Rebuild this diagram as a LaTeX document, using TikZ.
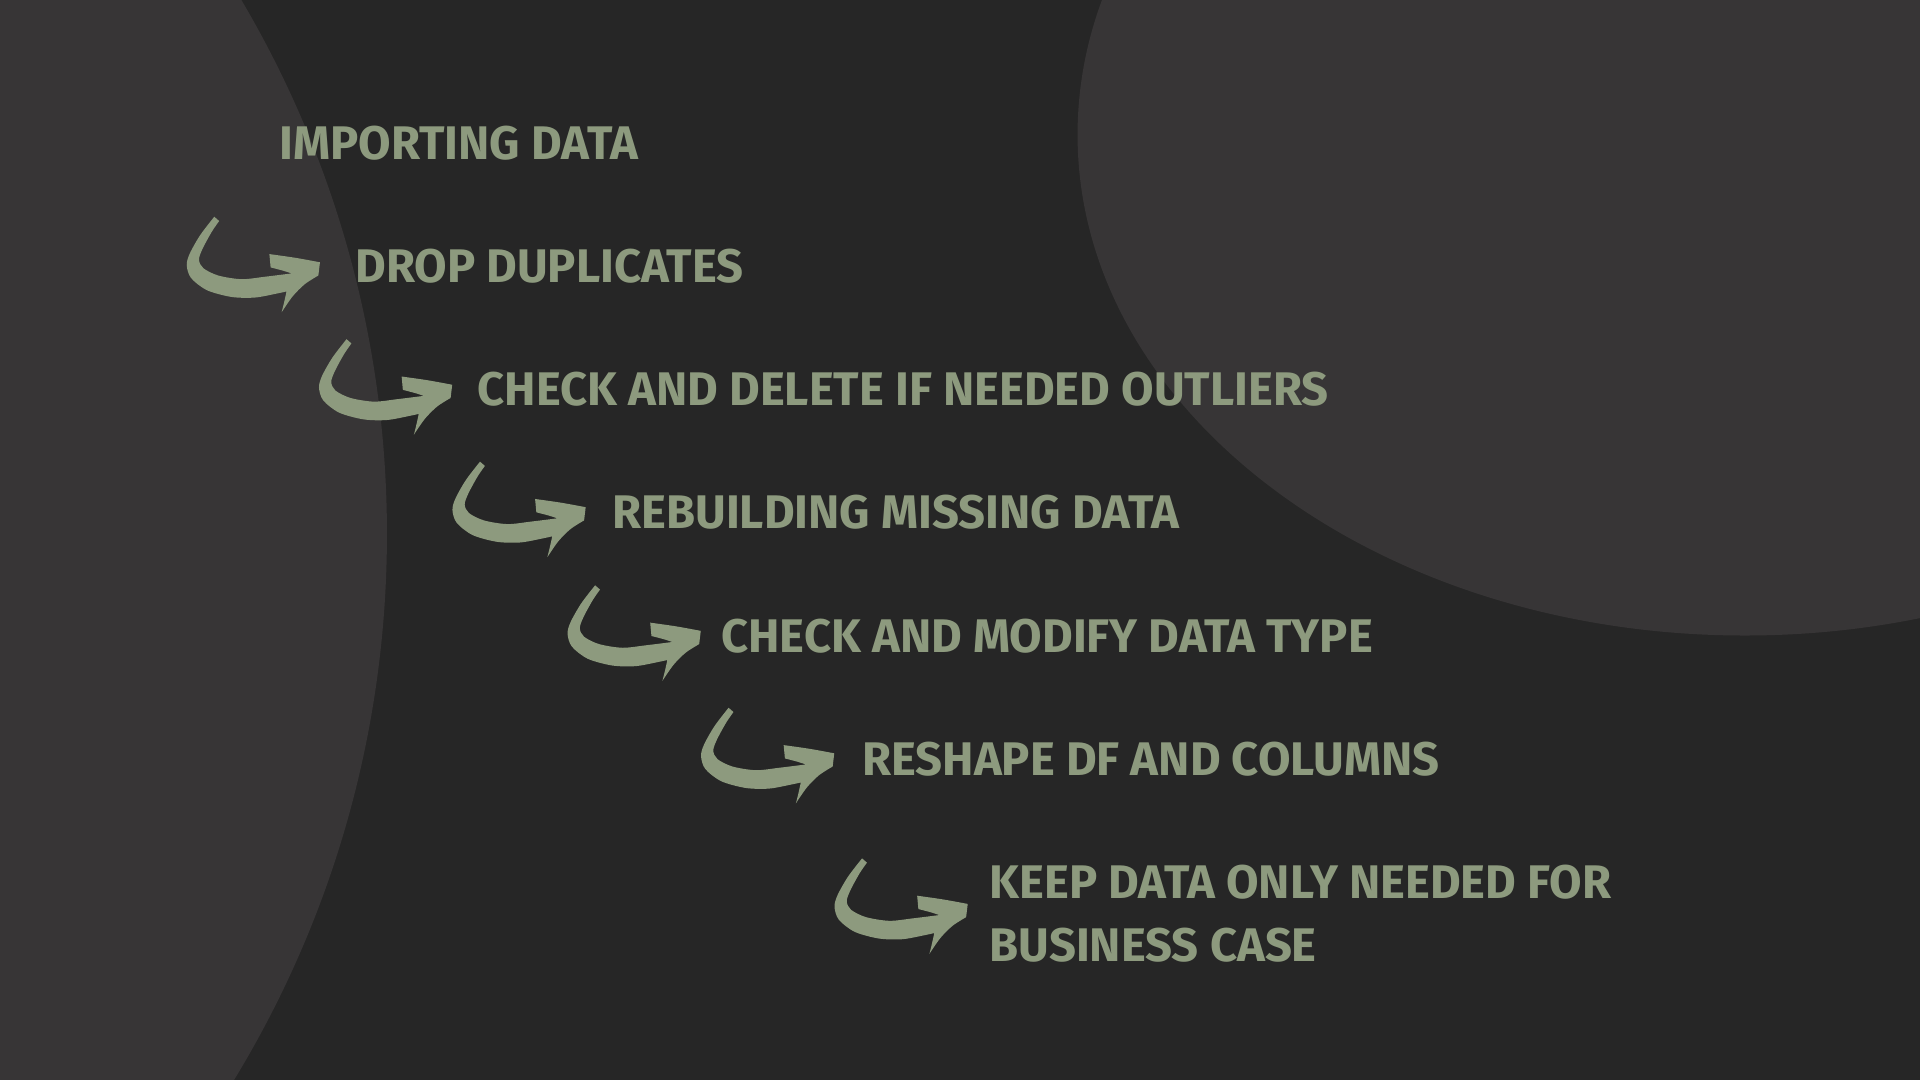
\documentclass[tikz,border=0pt]{standalone}
\usepackage{fontspec}
\setmainfont{Fira Sans}
\usepackage{tikz}
\usetikzlibrary{positioning}

\definecolor{bgdark}{HTML}{262626}
\definecolor{blobgray}{HTML}{373536}
\definecolor{sage}{HTML}{8D9A7E}

\tikzset{
  steptext/.style={text=sage, font=\fontsize{38.5}{51}\selectfont\bfseries, inner sep=0pt, align=left},
  bentarrow/.pic={
    \fill[sage] plot[smooth] coordinates {(-86,-43) (-97.5,-28) (-106,-13) (-108.5,-3.5) (-105,7) (-92,17) (-72,22.5) (-52.8,23) (-33.8,19.5) (-27,18)}
      -- plot[smooth] coordinates {(-27,18) (-29,27) (-31,35)}
      -- plot[smooth] coordinates {(-31,35) (-22,22) (-12,12) (-1,5)}
      -- (0.3,-5.8)
      -- plot[smooth] coordinates {(0.3,-5.8) (-20,-9.5) (-41,-12.5)}
      -- (-40,-1.6)
      -- plot[smooth] coordinates {(-40,-1.6) (-30,1) (-22.9,3.3)}
      -- plot[smooth] coordinates {(-22.9,3.3) (-44.6,6) (-63.7,8) (-82.8,5) (-95,-1) (-98.5,-8) (-95.5,-17) (-88,-30.8) (-82,-39.5)}
      -- cycle;
  }
}

\begin{document}
\begin{tikzpicture}[x=1pt,y=-1pt]

	\fill[bgdark] (0,0) rectangle (1568,882);
	\useasboundingbox (0,0) rectangle (1568,882);
	
	\begin{scope}
		\clip (0,0) rectangle (1568,882);
		\fill[blobgray] (-542,436) circle (858pt);
		\fill[blobgray] (1425,110) ellipse [x radius=545pt, y radius=409pt];
	\end{scope}
	
	% steps
	\node[steptext, anchor=base west] (import) at (228,130.5) {IMPORTING DATA};
	\node[steptext, anchor=base west] (dupes) at (290,231) {DROP DUPLICATES};
	\node[steptext, anchor=base west] (outliers) at (390,331.5) {CHECK AND DELETE IF NEEDED OUTLIERS};
	\node[steptext, anchor=base west] (missing) at (500,432) {REBUILDING MISSING DATA};
	\node[steptext, anchor=base west] (dtype) at (589,532.5) {CHECK AND MODIFY DATA TYPE};
	\node[steptext, anchor=base west] (reshape) at (704,633) {RESHAPE DF AND COLUMNS};
	\node[steptext, anchor=north west] (keep) at (808,706.5) {KEEP DATA ONLY NEEDED FOR\\BUSINESS CASE};
	
	\pic at (261,220) {bentarrow};
	\pic at (369,320) {bentarrow};
	\pic at (478,420) {bentarrow};
	\pic at (572,521) {bentarrow};
	\pic at (681,621) {bentarrow};
	\pic at (790,744) {bentarrow};
	
\end{tikzpicture}
\end{document}
